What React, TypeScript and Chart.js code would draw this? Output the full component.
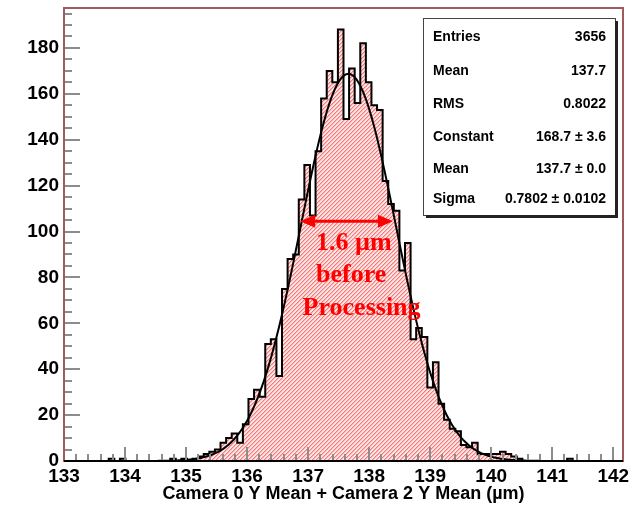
import React, { useEffect, useRef } from 'react';
import { Chart, registerables } from 'chart.js';

Chart.register(...registerables);

// ---- histogram data (100 equal bins) ----
const BIN_LOW = 133;
const BIN_HIGH = 142.16;
const BIN_COUNTS = [
  0, 0, 0, 0, 0, 0, 0, 0, 1, 0,
  1, 0, 0, 0, 0, 0, 0, 0, 0, 1,
  0, 1, 0, 1, 2, 3, 4, 5, 8, 10,
  12, 8, 16, 27, 31, 28, 51, 53, 37, 75,
  88, 90, 114, 129, 107, 135, 158, 170, 165, 188,
  149, 171, 156, 182, 165, 155, 153, 122, 112, 109,
  83, 95, 53, 58, 54, 32, 43, 25, 18, 14,
  13, 7, 6, 8, 3, 3, 3, 3, 4, 3,
  2, 1, 0, 0, 0, 0, 0, 0, 0, 0,
  1, 0, 0, 0, 0, 0, 0, 0, 0, 0,
];

// ---- axes ----
const X_MIN = 133;
const X_MAX = 142.16;
const Y_MIN = 0;
const Y_MAX = 197.4;
const X_MAJOR_STEP = 1;
const X_MINOR_STEP = 0.2;
const Y_MAJOR_STEP = 20;
const Y_MINOR_STEP = 5;
const X_TITLE = 'Camera 0 Y Mean + Camera 2 Y Mean (\u00b5m)';

// ---- gaussian fit (parameters from the stats box) ----
const FIT_CONSTANT = 168.7;
const FIT_MEAN = 137.66;
const FIT_SIGMA = 0.7802;
const FIT_FROM = 134.37;
const FIT_TO = 141.0;
const FIT_SAMPLES = 300;

// ---- stats box ----
const STAT_LABELS = ['Entries', 'Mean', 'RMS', 'Constant', 'Mean', 'Sigma'];
const STAT_VALUES = ['3656', '137.7', '0.8022', '168.7 \u00b1 3.6', '137.7 \u00b1 0.0', '0.7802 \u00b1 0.0102'];

// ---- annotation ----
const NOTE_LINES = ['1.6 \u00b5m', 'before', 'Processing'];
const NOTE_X = [137.13, 137.13, 136.91];
const NOTE_Y = [91.8, 77.8, 63.8];
const ARROW_FROM = 136.87;
const ARROW_TO = 138.39;
const ARROW_LEVEL = 104.5;

function makeHatch(): CanvasPattern | string {
  const c = document.createElement('canvas');
  c.width = 4;
  c.height = 4;
  const g = c.getContext('2d');
  if (!g) return 'rgba(240,130,130,0.5)';
  const img = g.createImageData(4, 4);
  for (let r = 0; r < 4; r++) {
    for (let col = 0; col < 4; col++) {
      const d = (col + r) % 4;
      const i = (r * 4 + col) * 4;
      let rgba = [255, 228, 228, 255];
      if (d === 3) rgba = [242, 122, 122, 255];
      else if (d === 0) rgba = [250, 180, 180, 255];
      img.data[i] = rgba[0];
      img.data[i + 1] = rgba[1];
      img.data[i + 2] = rgba[2];
      img.data[i + 3] = rgba[3];
    }
  }
  g.putImageData(img, 0, 0);
  const p = g.createPattern(c, 'repeat');
  return p || 'rgba(240,130,130,0.5)';
}

const rootStyle = {
  id: 'rootStyle',
  afterDatasetsDraw(chart: any) {
    const { ctx, chartArea: a } = chart;
    const xs = chart.scales.x;
    const ys = chart.scales.y;
    ctx.save();

    // annotation arrow
    const ay = ys.getPixelForValue(ARROW_LEVEL);
    const ax1 = xs.getPixelForValue(ARROW_FROM);
    const ax2 = xs.getPixelForValue(ARROW_TO);
    const head = 15;
    const half = 6.5;
    ctx.strokeStyle = '#ff0000';
    ctx.fillStyle = '#ff0000';
    ctx.lineWidth = 3;
    ctx.beginPath();
    ctx.moveTo(ax1 + head - 2, ay);
    ctx.lineTo(ax2 - head + 2, ay);
    ctx.stroke();
    ctx.beginPath();
    ctx.moveTo(ax1, ay);
    ctx.lineTo(ax1 + head, ay - half);
    ctx.lineTo(ax1 + head, ay + half);
    ctx.closePath();
    ctx.fill();
    ctx.beginPath();
    ctx.moveTo(ax2, ay);
    ctx.lineTo(ax2 - head, ay - half);
    ctx.lineTo(ax2 - head, ay + half);
    ctx.closePath();
    ctx.fill();

    ctx.font = 'bold 26px "Liberation Serif", "Times New Roman", serif';
    ctx.textAlign = 'left';
    ctx.textBaseline = 'alphabetic';
    NOTE_LINES.forEach((t, i) => {
      ctx.fillText(t, xs.getPixelForValue(NOTE_X[i]), ys.getPixelForValue(NOTE_Y[i]));
    });

    // ticks (drawn inward like ROOT)
    ctx.strokeStyle = '#8c8c8c';
    ctx.lineWidth = 2;
    ctx.beginPath();
    const nY = Math.round((Y_MAX - Y_MIN) / Y_MINOR_STEP);
    for (let i = 0; i <= nY; i++) {
      const v = Y_MIN + i * Y_MINOR_STEP;
      if (v > Y_MAX) break;
      const major = Math.abs(v / Y_MAJOR_STEP - Math.round(v / Y_MAJOR_STEP)) < 1e-6;
      const py = Math.round(ys.getPixelForValue(v));
      ctx.moveTo(a.left, py);
      ctx.lineTo(a.left + (major ? 16 : 8), py);
    }
    const nX = Math.round((X_MAX - X_MIN) / X_MINOR_STEP);
    for (let i = 0; i <= nX; i++) {
      const v = X_MIN + i * X_MINOR_STEP;
      if (v > X_MAX + 1e-9) break;
      const major = i % Math.round(X_MAJOR_STEP / X_MINOR_STEP) === 0;
      const px = Math.round(xs.getPixelForValue(v));
      ctx.moveTo(px, a.bottom);
      ctx.lineTo(px, a.bottom - (major ? 14 : 7));
    }
    ctx.stroke();

    // frame
    ctx.strokeStyle = '#a05a5a';
    ctx.lineWidth = 2;
    ctx.strokeRect(a.left, a.top, a.right - a.left, a.bottom - a.top);
    ctx.strokeStyle = '#000';
    ctx.beginPath();
    ctx.moveTo(a.left, a.bottom);
    ctx.lineTo(a.right, a.bottom);
    ctx.stroke();

    // axis title
    ctx.fillStyle = '#000';
    ctx.font = 'bold 18px "Liberation Sans", Arial, sans-serif';
    ctx.textAlign = 'center';
    ctx.fillText(X_TITLE, (a.left + a.right) / 2, 499);

    // stats box
    const bx = 423, by = 18, bw = 192, bh = 197;
    ctx.fillStyle = '#fff';
    ctx.fillRect(bx, by, bw, bh);
    ctx.strokeStyle = '#444';
    ctx.lineWidth = 1;
    ctx.strokeRect(bx + 0.5, by + 0.5, bw, bh);
    ctx.fillStyle = '#222';
    ctx.fillRect(bx + bw, by + 3, 3, bh);
    ctx.fillRect(bx + 3, by + bh, bw, 3);
    ctx.fillStyle = '#000';
    ctx.font = 'bold 14px "Liberation Sans", Arial, sans-serif';
    const rowCenters = [36, 69.5, 103, 135.5, 167.5, 198];
    STAT_LABELS.forEach((lab, i) => {
      const base = rowCenters[i] + 5;
      ctx.textAlign = 'left';
      ctx.fillText(lab, bx + 10, base);
      ctx.textAlign = 'right';
      ctx.fillText(STAT_VALUES[i], bx + bw - 9, base);
    });
    ctx.restore();
  },
};

export default function App() {
  const ref = useRef<HTMLCanvasElement | null>(null);
  useEffect(() => {
    if (!ref.current) return;
    const width = (BIN_HIGH - BIN_LOW) / BIN_COUNTS.length;
    const histPts: { x: number; y: number }[] = [{ x: BIN_LOW, y: 0 }];
    BIN_COUNTS.forEach((c, k) => {
      const lo = BIN_LOW + k * width;
      const hi = BIN_LOW + (k + 1) * width;
      histPts.push({ x: lo, y: c });
      histPts.push({ x: hi, y: c });
    });
    histPts.push({ x: BIN_HIGH, y: 0 });

    const fitPts: { x: number; y: number }[] = [];
    for (let i = 0; i <= FIT_SAMPLES; i++) {
      const x = FIT_FROM + ((FIT_TO - FIT_FROM) * i) / FIT_SAMPLES;
      const z = (x - FIT_MEAN) / FIT_SIGMA;
      fitPts.push({ x, y: FIT_CONSTANT * Math.exp(-0.5 * z * z) });
    }

    const tickFont = { family: '"Liberation Sans Narrow", "Liberation Sans", Arial, sans-serif', size: 19, weight: 'bold' as const };

    const chart = new Chart(ref.current, {
      type: 'line',
      data: {
        datasets: [
          {
            label: 'fit',
            data: fitPts,
            borderColor: '#000',
            borderWidth: 2,
            pointRadius: 0,
            tension: 0,
            fill: false,
          },
          {
            label: 'hist',
            data: histPts,
            borderColor: '#000',
            borderWidth: 2,
            pointRadius: 0,
            tension: 0,
            fill: 'origin',
            backgroundColor: makeHatch() as any,
          },
        ],
      },
      options: {
        responsive: false,
        animation: false,
        devicePixelRatio: 1,
        layout: { padding: { left: 0, top: 8, right: 10, bottom: 0 } },
        plugins: { legend: { display: false }, tooltip: { enabled: false }, title: { display: false } },
        scales: {
          x: {
            type: 'linear',
            min: X_MIN,
            max: X_MAX,
            grid: { display: false, drawTicks: false },
            border: { display: false },
            ticks: {
              stepSize: X_MAJOR_STEP,
              includeBounds: false,
              autoSkip: false,
              maxRotation: 0,
              padding: 4,
              color: '#000',
              font: tickFont,
              callback: (v: any) => String(v),
            },
            afterFit: (s: any) => {
              s.height = 48;
              s.paddingLeft = 0;
              s.paddingRight = 0;
              s.paddingTop = 0;
              s.paddingBottom = 0;
            },
          },
          y: {
            type: 'linear',
            min: Y_MIN,
            max: Y_MAX,
            grid: { display: false, drawTicks: false },
            border: { display: false },
            ticks: {
              stepSize: Y_MAJOR_STEP,
              includeBounds: false,
              padding: 5,
              color: '#000',
              font: tickFont,
              callback: (v: any) => String(v),
            },
            afterFit: (s: any) => {
              s.width = 64;
              s.paddingLeft = 0;
              s.paddingRight = 0;
              s.paddingTop = 0;
              s.paddingBottom = 0;
            },
          },
        },
      },
      plugins: [rootStyle],
    });
    return () => chart.destroy();
  }, []);

  return (
    <div style={{ position: 'fixed', left: 0, top: 0, width: 633, height: 509, background: '#fff' }}>
      <canvas ref={ref} width={633} height={509} style={{ display: 'block' }} />
    </div>
  );
}
